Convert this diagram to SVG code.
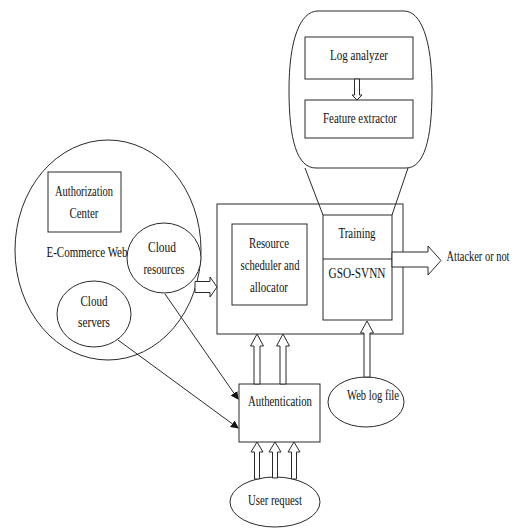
<svg xmlns="http://www.w3.org/2000/svg" width="519" height="529" viewBox="0 0 519 529">
<style>
.s{fill:none;stroke:#2a2a2a;stroke-width:1}
.w{fill:#fff;stroke:#2a2a2a;stroke-width:1}
.ba{fill:#fff;stroke:#2a2a2a;stroke-width:1;stroke-linejoin:miter}
text{font-family:"Liberation Serif","Times New Roman",serif;font-size:14px;fill:#111;text-anchor:middle}
</style>
<defs>
<marker id="ah" markerWidth="8" markerHeight="8" refX="7" refY="4" orient="auto" markerUnits="userSpaceOnUse">
<path d="M0,0 L8,4 L0,8 Z" fill="#111"/>
</marker>
</defs>
<rect width="519" height="529" fill="#fff"/>

<g id="ecommerce-web">
<ellipse class="s" cx="108" cy="250" rx="93" ry="110"/>
<text x="87" y="257" textLength="81" lengthAdjust="spacingAndGlyphs">E-Commerce Web</text>
</g>
<g id="authorization-center">
<rect class="s" x="48" y="172" width="73" height="60"/>
<text x="84" y="196" textLength="58" lengthAdjust="spacingAndGlyphs">Authorization</text>
<text x="84" y="218" textLength="29" lengthAdjust="spacingAndGlyphs">Center</text>
</g>
<g id="cloud-resources">
<ellipse class="w" cx="164" cy="258" rx="37" ry="35"/>
<text x="162" y="252" textLength="28" lengthAdjust="spacingAndGlyphs">Cloud</text>
<text x="164" y="274" textLength="41" lengthAdjust="spacingAndGlyphs">resources</text>
</g>
<g id="cloud-servers">
<ellipse class="w" cx="94" cy="314" rx="37" ry="33"/>
<text x="94" y="306" textLength="27" lengthAdjust="spacingAndGlyphs">Cloud</text>
<text x="94" y="327" textLength="32" lengthAdjust="spacingAndGlyphs">servers</text>
</g>

<g id="log-processing">
<path class="s" d="M318,11 L404,11 C421,11 432,40 432,90 C432,140 424,168 406,168 L316,168 C297,168 289,140 289,90 C289,40 300,11 318,11 Z"/>
<path class="s" d="M305,168 L323,215 M408,168 L392,215"/>
</g>
<g id="log-analyzer">
<rect class="s" x="305" y="37" width="108" height="42"/>
<text x="359" y="60" textLength="58" lengthAdjust="spacingAndGlyphs">Log analyzer</text>
</g>
<g id="feature-extractor">
<rect class="s" x="305" y="100" width="108" height="38"/>
<text x="360" y="123" textLength="74" lengthAdjust="spacingAndGlyphs">Feature extractor</text>
</g>

<g id="main-system">
<rect class="s" x="217" y="204" width="186" height="130"/>
</g>
<g id="resource-scheduler">
<rect class="s" x="232" y="224" width="75" height="81"/>
<text x="269" y="248" textLength="40" lengthAdjust="spacingAndGlyphs">Resource</text>
<text x="270" y="270" textLength="59" lengthAdjust="spacingAndGlyphs">scheduler and</text>
<text x="269" y="292" textLength="38" lengthAdjust="spacingAndGlyphs">allocator</text>
</g>
<g id="training-gso-svnn">
<rect class="s" x="323" y="215" width="69" height="105"/>
<line class="s" x1="323" y1="259" x2="392" y2="259"/>
<text x="357" y="238" textLength="37" lengthAdjust="spacingAndGlyphs">Training</text>
<text x="357" y="278" textLength="57" lengthAdjust="spacingAndGlyphs">GSO-SVNN</text>
</g>
<g id="attacker-or-not">
<text x="478" y="261" font-size="13" textLength="63" lengthAdjust="spacingAndGlyphs">Attacker or not</text>
</g>
<g id="authentication">
<rect class="s" x="239" y="384" width="81" height="58"/>
<text x="280" y="406" textLength="64" lengthAdjust="spacingAndGlyphs">Authentication</text>
</g>
<g id="web-log-file">
<ellipse class="s" cx="366" cy="402" rx="38" ry="25"/>
<text x="373" y="400" textLength="52" lengthAdjust="spacingAndGlyphs">Web log file</text>
</g>
<g id="user-request">
<ellipse class="s" cx="275" cy="502" rx="45" ry="25"/>
<text x="275" y="505" textLength="54" lengthAdjust="spacingAndGlyphs">User request</text>
</g>

<g id="connectors">
<path class="ba" d="M354.5,79 L359.5,79 L359.5,95 L362,95 L357,100 L352,95 L354.5,95 Z"/>
<path class="ba" d="M195,281.5 L210,281.5 L210,277 L217,287 L210,297 L210,292.5 L195,292.5 Z"/>
<path class="ba" d="M392,252 L428,252 L428,246 L441,260.5 L428,275 L428,267 L392,267 Z"/>
<path class="ba" d="M254,384 L254,346 L250.5,346 L257,334 L263.5,346 L260,346 L260,384 Z"/>
<path class="ba" d="M280,384 L280,346 L276.5,346 L283,334 L289.5,346 L286,346 L286,384 Z"/>
<path class="ba" d="M364,377 L364,333 L360.5,333 L367,321 L373.5,333 L370,333 L370,377 Z"/>
<path class="ba" d="M254.5,479 L254.5,452 L251,452 L257,442 L263,452 L259.5,452 L259.5,479 Z"/>
<path class="ba" d="M272.5,478 L272.5,452 L269,452 L275,442 L281,452 L277.5,452 L277.5,478 Z"/>
<path class="ba" d="M291.5,479 L291.5,452 L288,452 L294,442 L300,452 L296.5,452 L296.5,479 Z"/>
<line class="s" x1="165" y1="294" x2="238" y2="399" marker-end="url(#ah)"/>
<line class="s" x1="118" y1="340" x2="238" y2="428" marker-end="url(#ah)"/>
</g>
</svg>
